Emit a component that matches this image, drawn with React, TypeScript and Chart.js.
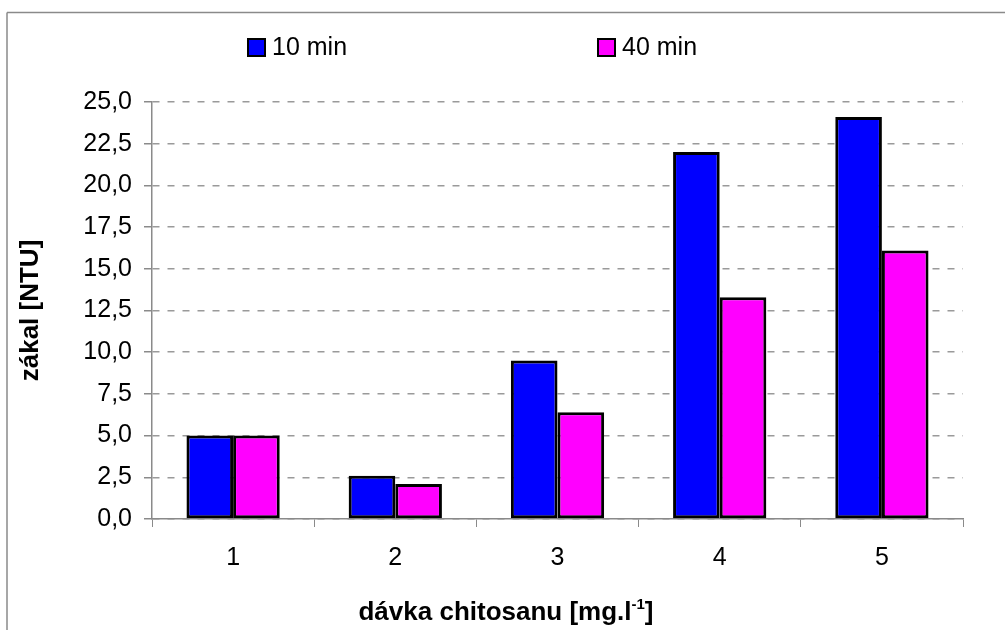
import React, { useEffect, useRef } from "react";
import { Chart, registerables } from "chart.js";

Chart.register(...registerables);

const categories = ["1", "2", "3", "4", "5"];
const seriesLabels = ["10 min", "40 min"];
const series10 = [5.0, 2.6, 9.5, 22.0, 24.1];
const series40 = [5.0, 2.1, 6.4, 13.3, 16.1];
const yMin = 0;
const yMax = 25;
const yStep = 2.5;
const yTitle = "zákal [NTU]";
const xTitleMain = "dávka chitosanu [mg.l";
const xTitleSup = "-1";
const xTitleEnd = "]";

const FONT = '"Liberation Sans", Arial, sans-serif';
const colors = ["#0000FF", "#FF00FF"];
const legendXs = [247, 597];

const decorPlugin = {
  id: "decor",
  beforeDraw(chart: any) {
    const ctx = chart.ctx;
    ctx.save();
    ctx.fillStyle = "#ffffff";
    ctx.fillRect(0, 0, chart.width, chart.height);
    ctx.strokeStyle = "#8a8a8a";
    ctx.lineWidth = 1.5;
    ctx.beginPath();
    ctx.moveTo(7, 12.5);
    ctx.lineTo(chart.width, 12.5);
    ctx.moveTo(7, 12.5);
    ctx.lineTo(7, chart.height);
    ctx.stroke();
    ctx.restore();
  },
  afterDraw(chart: any) {
    const ctx = chart.ctx;
    ctx.save();
    // legend
    chart.data.datasets.forEach((ds: any, i: number) => {
      const x = legendXs[i];
      const y = 38;
      ctx.fillStyle = "#000";
      ctx.fillRect(x, y, 19, 19);
      ctx.fillStyle = ds.backgroundColor;
      ctx.fillRect(x + 2, y + 2, 15, 15);
      ctx.fillStyle = "#000";
      ctx.font = `25px ${FONT}`;
      ctx.textBaseline = "middle";
      ctx.textAlign = "left";
      ctx.fillText(ds.label, x + 25, y + 10);
    });
    // x title with superscript
    const mainFont = `bold 26px ${FONT}`;
    const supFont = `bold 15px ${FONT}`;
    ctx.font = mainFont;
    const w1 = ctx.measureText(xTitleMain).width;
    const w3 = ctx.measureText(xTitleEnd).width;
    ctx.font = supFont;
    const w2 = ctx.measureText(xTitleSup).width;
    const total = w1 + w2 + w3;
    const cx = 506;
    const baseY = 620;
    let x = cx - total / 2;
    ctx.fillStyle = "#000";
    ctx.textAlign = "left";
    ctx.textBaseline = "alphabetic";
    ctx.font = mainFont;
    ctx.fillText(xTitleMain, x, baseY);
    x += w1;
    ctx.font = supFont;
    ctx.fillText(xTitleSup, x, baseY - 11);
    x += w2;
    ctx.font = mainFont;
    ctx.fillText(xTitleEnd, x, baseY);
    ctx.restore();
  },
};

export default function App() {
  const canvasRef = useRef<HTMLCanvasElement | null>(null);

  useEffect(() => {
    document.body.style.margin = "0";
    const canvas = canvasRef.current;
    if (!canvas) return;
    const chart = new Chart(canvas, {
      type: "bar",
      data: {
        labels: categories,
        datasets: [
          {
            label: seriesLabels[0],
            data: series10,
            backgroundColor: colors[0],
            borderColor: "#000000",
            borderWidth: 3,
            borderSkipped: false,
            barPercentage: 1,
            categoryPercentage: 0.575,
          },
          {
            label: seriesLabels[1],
            data: series40,
            backgroundColor: colors[1],
            borderColor: "#000000",
            borderWidth: 3,
            borderSkipped: false,
            barPercentage: 1,
            categoryPercentage: 0.575,
          },
        ],
      },
      options: {
        responsive: false,
        animation: false,
        layout: { padding: { top: 102, right: 42, left: 0, bottom: 0 } },
        plugins: {
          legend: { display: false },
          tooltip: { enabled: false },
        },
        scales: {
          x: {
            afterFit(scale: any) {
              scale.height = 111;
            },
            grid: {
              offset: true,
              drawOnChartArea: false,
              drawTicks: true,
              tickLength: 8,
              tickColor: "#8a8a8a",
              color: "#8a8a8a",
            },
            border: { display: true, color: "#8a8a8a", width: 1.5 },
            ticks: {
              color: "#000",
              padding: 16,
              font: { family: FONT, size: 25 },
            },
          },
          y: {
            min: yMin,
            max: yMax,
            afterFit(scale: any) {
              scale.width = 152;
            },
            afterBuildTicks(scale: any) {
              const t = [];
              for (let v = yMin; v <= yMax + 1e-9; v += yStep) t.push({ value: v });
              scale.ticks = t;
            },
            grid: {
              color: "#9a9a9a",
              lineWidth: 1.5,
              drawTicks: true,
              tickLength: 8,
              tickColor: "#8a8a8a",
              tickBorderDash: [],
            },
            border: { display: true, color: "#8a8a8a", width: 1.5, dash: [7, 8] },
            ticks: {
              stepSize: yStep,
              color: "#000",
              padding: 12,
              font: { family: FONT, size: 25 },
              callback: (v: any) => Number(v).toFixed(1).replace(".", ","),
            },
            title: {
              display: true,
              text: yTitle,
              color: "#000",
              padding: { top: 15, bottom: 0 },
              font: { family: FONT, size: 26, weight: "bold" },
            },
          },
        },
      },
      plugins: [decorPlugin],
    });
    return () => chart.destroy();
  }, []);

  return (
    <canvas
      ref={canvasRef}
      width={1005}
      height={630}
      style={{ display: "block", width: 1005, height: 630 }}
    />
  );
}
